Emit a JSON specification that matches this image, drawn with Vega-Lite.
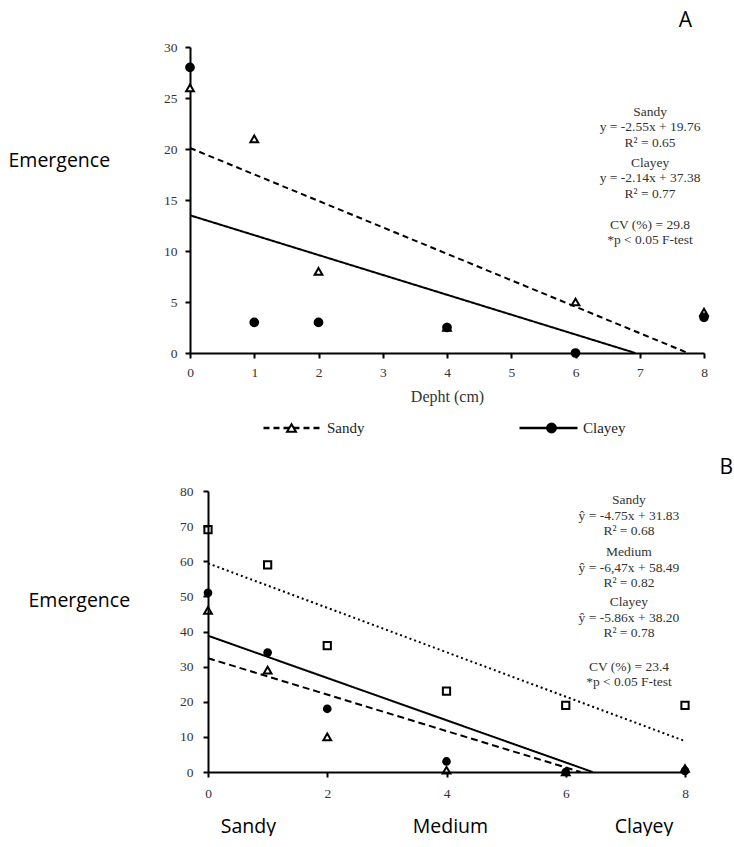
{
  "$schema": "https://vega.github.io/schema/vega-lite/v6.json",
  "padding": {"left": 8, "top": 10, "right": 0, "bottom": 0},
  "background": "white",
  "spacing": 21,
  "datasets": {
    "points": [
      {"panel": "A", "soil": "Sandy", "depth": 0, "emergence": 26},
      {"panel": "A", "soil": "Sandy", "depth": 1, "emergence": 21},
      {"panel": "A", "soil": "Sandy", "depth": 2, "emergence": 8},
      {"panel": "A", "soil": "Sandy", "depth": 4, "emergence": 2.5},
      {"panel": "A", "soil": "Sandy", "depth": 6, "emergence": 5},
      {"panel": "A", "soil": "Sandy", "depth": 8, "emergence": 4},
      {"panel": "A", "soil": "Clayey", "depth": 0, "emergence": 28},
      {"panel": "A", "soil": "Clayey", "depth": 1, "emergence": 3},
      {"panel": "A", "soil": "Clayey", "depth": 2, "emergence": 3},
      {"panel": "A", "soil": "Clayey", "depth": 4, "emergence": 2.5},
      {"panel": "A", "soil": "Clayey", "depth": 6, "emergence": 0},
      {"panel": "A", "soil": "Clayey", "depth": 8, "emergence": 3.5},
      {"panel": "B", "soil": "Sandy", "depth": 0, "emergence": 46},
      {"panel": "B", "soil": "Sandy", "depth": 1, "emergence": 29},
      {"panel": "B", "soil": "Sandy", "depth": 2, "emergence": 10},
      {"panel": "B", "soil": "Sandy", "depth": 4, "emergence": 0.5},
      {"panel": "B", "soil": "Sandy", "depth": 6, "emergence": 0},
      {"panel": "B", "soil": "Sandy", "depth": 8, "emergence": 1},
      {"panel": "B", "soil": "Medium", "depth": 0, "emergence": 69},
      {"panel": "B", "soil": "Medium", "depth": 1, "emergence": 59},
      {"panel": "B", "soil": "Medium", "depth": 2, "emergence": 36},
      {"panel": "B", "soil": "Medium", "depth": 4, "emergence": 23},
      {"panel": "B", "soil": "Medium", "depth": 6, "emergence": 19},
      {"panel": "B", "soil": "Medium", "depth": 8, "emergence": 19},
      {"panel": "B", "soil": "Clayey", "depth": 0, "emergence": 51},
      {"panel": "B", "soil": "Clayey", "depth": 1, "emergence": 34},
      {"panel": "B", "soil": "Clayey", "depth": 2, "emergence": 18},
      {"panel": "B", "soil": "Clayey", "depth": 4, "emergence": 3},
      {"panel": "B", "soil": "Clayey", "depth": 6, "emergence": 0},
      {"panel": "B", "soil": "Clayey", "depth": 8, "emergence": 0.3}
    ],
    "lines": [
      {"panel": "A", "soil": "Sandy", "depth": 0, "emergence": 20.1},
      {"panel": "A", "soil": "Sandy", "depth": 7.75, "emergence": 0},
      {"panel": "A", "soil": "Clayey", "depth": 0, "emergence": 13.5},
      {"panel": "A", "soil": "Clayey", "depth": 6.93, "emergence": 0},
      {"panel": "B", "soil": "Sandy", "depth": 0, "emergence": 32.4},
      {"panel": "B", "soil": "Sandy", "depth": 6.25, "emergence": 0},
      {"panel": "B", "soil": "Medium", "depth": 0, "emergence": 59.4},
      {"panel": "B", "soil": "Medium", "depth": 8, "emergence": 8.8},
      {"panel": "B", "soil": "Clayey", "depth": 0, "emergence": 38.8},
      {"panel": "B", "soil": "Clayey", "depth": 6.45, "emergence": 0}
    ],
    "notes": [
      {"panel": "A", "block": 1, "txt": ["Sandy", "y = -2.55x + 19.76", "R² = 0.65"]},
      {"panel": "A", "block": 2, "txt": ["Clayey", "y = -2.14x + 37.38", "R² = 0.77"]},
      {"panel": "A", "block": 3, "txt": ["CV (%) = 29.8", "*p < 0.05 F-test"]},
      {"panel": "B", "block": 1, "txt": ["Sandy", "ŷ = -4.75x + 31.83", "R² = 0.68"]},
      {"panel": "B", "block": 2, "txt": ["Medium", "ŷ = -6,47x + 58.49", "R² = 0.82"]},
      {"panel": "B", "block": 3, "txt": ["Clayey", "ŷ = -5.86x + 38.20", "R² = 0.78"]},
      {"panel": "B", "block": 4, "txt": ["CV (%) = 23.4", "*p < 0.05 F-test"]}
    ]
  },
  "config": {
    "view": {"stroke": null},
    "axis": {
      "grid": false,
      "domainColor": "black",
      "domainWidth": 2,
      "tickColor": "black",
      "tickWidth": 2,
      "tickSize": 5,
      "labelFont": "Liberation Serif",
      "labelFontSize": 13.5,
      "labelColor": "#333",
      "labelFlush": false,
      "labelOverlap": false,
      "titleFontWeight": "normal",
      "titleLimit": 1000
    }
  },
  "resolve": {"scale": {"strokeDash": "independent", "shape": "independent", "fill": "independent", "size": "independent"}},
  "vconcat": [
    {
      "name": "top",
      "width": 514,
      "height": 306,
      "title": {"text": "A", "anchor": "end", "frame": "group", "dx": -12, "offset": -8, "baseline": "alphabetic", "font": "Open Sans", "fontSize": 21, "fontWeight": "normal", "color": "black"},
      "encoding": {
        "x": {"field": "depth", "type": "quantitative", "scale": {"domain": [0, 8], "nice": false},
          "axis": {"values": [0, 1, 2, 3, 4, 5, 6, 7, 8], "format": "d", "labelPadding": 7, "title": "Depht (cm)", "titleFont": "Liberation Serif", "titleFontSize": 16, "titleColor": "#333", "titlePadding": 10}},
        "y": {"field": "emergence", "type": "quantitative", "scale": {"domain": [0, 30], "nice": false},
          "axis": {"values": [0, 5, 10, 15, 20, 25, 30], "format": "d", "labelPadding": 8, "title": "Emergence", "titleAngle": 0, "titleAlign": "left", "titleBaseline": "middle", "titleX": -182, "titleY": 113, "titleFont": "Open Sans", "titleFontSize": 19.5, "titleColor": "black"}}
      },
      "layer": [
        {
          "data": {"name": "lines"},
          "transform": [{"filter": "datum.panel === 'A'"}],
          "mark": {"type": "line", "color": "black", "strokeWidth": 2},
          "encoding": {
            "strokeDash": {"field": "soil", "type": "nominal",
              "scale": {"domain": ["Sandy", "Clayey"], "range": [[6, 4], [1, 0]]},
              "legend": {
                "orient": "none", "legendX": 72, "legendY": 374, "direction": "horizontal", "columns": 2,
                "title": null, "padding": 0, "symbolType": "stroke", "symbolSize": 3364, "symbolStrokeWidth": 2.5, "symbolStrokeColor": "black",
                "clipHeight": 14, "labelOffset": 4, "columnPadding": 153,
                "labelFont": "Liberation Serif", "labelFontSize": 15, "labelColor": "#222"
              }}
          }
        },
        {
          "data": {"name": "points"},
          "transform": [{"filter": "datum.panel === 'A'"}],
          "mark": {"type": "point", "stroke": "black", "strokeWidth": 2, "opacity": 1},
          "encoding": {
            "shape": {"field": "soil", "type": "nominal", "scale": {"domain": ["Sandy", "Clayey", "Medium"], "range": ["triangle-up", "circle", "square"]},
              "legend": {"orient": "none", "legendX": 72, "legendY": 374, "direction": "horizontal", "columns": 2, "values": ["Sandy", "Clayey"],
                "title": null, "padding": 0, "symbolSize": 80, "symbolStrokeWidth": 2, "symbolStrokeColor": "black", "symbolOpacity": 1,
                "clipHeight": 14, "symbolOffset": 22, "labelOffset": 30, "columnPadding": 193, "labelExpr": "''",
                "labelFont": "Liberation Serif", "labelFontSize": 15,
                "encode": {"symbols": {"update": {"stroke": {"value": "black"}, "strokeWidth": {"value": 2}, "opacity": {"value": 1}}}}}},
            "fill": {"field": "soil", "type": "nominal", "scale": {"domain": ["Sandy", "Clayey", "Medium"], "range": ["white", "black", "white"]},
              "legend": {"orient": "none", "legendX": 72, "legendY": 374, "direction": "horizontal", "columns": 2, "values": ["Sandy", "Clayey"],
                "title": null, "padding": 0, "symbolSize": 80, "symbolStrokeWidth": 2, "symbolStrokeColor": "black", "symbolOpacity": 1,
                "clipHeight": 14, "symbolOffset": 22, "labelOffset": 30, "columnPadding": 193, "labelExpr": "''",
                "labelFont": "Liberation Serif", "labelFontSize": 15,
                "encode": {"symbols": {"update": {"stroke": {"value": "black"}, "strokeWidth": {"value": 2}, "opacity": {"value": 1}}}}}},
            "size": {"value": 60}
          }
        },
        {
          "data": {"name": "notes"},
          "transform": [{"filter": "datum.panel === 'A' && datum.block === 1"}],
          "mark": {"type": "text", "font": "Liberation Serif", "fontSize": 13.5, "fill": "#333", "align": "center", "baseline": "top", "lineHeight": 15.5},
          "encoding": {
            "x": {"value": {"expr": "scale('top_x', 7.16)"}},
            "y": {"value": {"expr": "scale('top_y', 24.36)"}},
            "text": {"field": "txt"}
          }
        },
        {
          "data": {"name": "notes"},
          "transform": [{"filter": "datum.panel === 'A' && datum.block === 2"}],
          "mark": {"type": "text", "font": "Liberation Serif", "fontSize": 13.5, "fill": "#333", "align": "center", "baseline": "top", "lineHeight": 15.5},
          "encoding": {
            "x": {"value": {"expr": "scale('top_x', 7.16)"}},
            "y": {"value": {"expr": "scale('top_y', 19.36)"}},
            "text": {"field": "txt"}
          }
        },
        {
          "data": {"name": "notes"},
          "transform": [{"filter": "datum.panel === 'A' && datum.block === 3"}],
          "mark": {"type": "text", "font": "Liberation Serif", "fontSize": 13.5, "fill": "#333", "align": "center", "baseline": "top", "lineHeight": 15.5},
          "encoding": {
            "x": {"value": {"expr": "scale('top_x', 7.16)"}},
            "y": {"value": {"expr": "scale('top_y', 13.28)"}},
            "text": {"field": "txt"}
          }
        }
      ]
    },
    {
      "name": "bottom",
      "width": 495,
      "height": 281,
      "title": {"text": "B", "anchor": "end", "frame": "group", "dx": 48, "offset": -11, "baseline": "alphabetic", "font": "Open Sans", "fontSize": 21, "fontWeight": "normal", "color": "black"},
      "encoding": {
        "x": {"field": "depth", "type": "quantitative", "scale": {"domain": [0, 8], "nice": false, "range": [18, 495]},
          "axis": {"values": [0, 2, 4, 6, 8], "format": "d", "labelPadding": 9, "title": "Sandy\u00a0\u00a0\u00a0\u00a0\u00a0\u00a0\u00a0\u00a0\u00a0\u00a0\u00a0\u00a0\u00a0\u00a0\u00a0\u00a0\u00a0\u00a0\u00a0\u00a0\u00a0\u00a0\u00a0\u00a0\u00a0\u00a0\u00a0Medium\u00a0\u00a0\u00a0\u00a0\u00a0\u00a0\u00a0\u00a0\u00a0\u00a0\u00a0\u00a0\u00a0\u00a0\u00a0\u00a0\u00a0\u00a0\u00a0\u00a0\u00a0\u00a0\u00a0\u00a0\u00a0Clayey", "titleFont": "Open Sans", "titleFontSize": 19.5, "titleColor": "black", "titlePadding": 18}},
        "y": {"field": "emergence", "type": "quantitative", "scale": {"domain": [0, 80], "nice": false},
          "axis": {"values": [0, 10, 20, 30, 40, 50, 60, 70, 80], "format": "d", "offset": -18, "labelPadding": 10, "title": "Emergence", "titleAngle": 0, "titleAlign": "left", "titleBaseline": "middle", "titleX": -180, "titleY": 109, "titleFont": "Open Sans", "titleFontSize": 19.5, "titleColor": "black"}}
      },
      "layer": [
        {
          "data": {"name": "lines"},
          "transform": [{"filter": "datum.panel === 'B'"}],
          "mark": {"type": "line", "color": "black", "strokeWidth": 2},
          "encoding": {
            "strokeDash": {"field": "soil", "type": "nominal",
              "scale": {"domain": ["Sandy", "Medium", "Clayey"], "range": [[7, 4], [2, 3], [1, 0]]},
              "legend": null}
          }
        },
        {
          "data": {"name": "points"},
          "transform": [{"filter": "datum.panel === 'B'"}],
          "mark": {"type": "point", "stroke": "black", "strokeWidth": 2, "opacity": 1},
          "encoding": {
            "shape": {"field": "soil", "type": "nominal", "scale": {"domain": ["Sandy", "Medium", "Clayey"], "range": ["triangle-up", "square", "circle"]}, "legend": null},
            "fill": {"field": "soil", "type": "nominal", "scale": {"domain": ["Sandy", "Medium", "Clayey"], "range": ["transparent", "transparent", "black"]}, "legend": null},
            "size": {"field": "soil", "type": "ordinal", "scale": {"domain": ["Sandy", "Medium", "Clayey"], "range": [60, 45, 60]}, "legend": null}
          }
        },
        {
          "data": {"name": "notes"},
          "transform": [{"filter": "datum.panel === 'B' && datum.block === 1"}],
          "mark": {"type": "text", "font": "Liberation Serif", "fontSize": 13.5, "fill": "#333", "align": "center", "baseline": "top", "lineHeight": 15.5},
          "encoding": {
            "x": {"value": {"expr": "scale('bottom_x', 7.06)"}},
            "y": {"value": {"expr": "scale('bottom_y', 79.3)"}},
            "text": {"field": "txt"}
          }
        },
        {
          "data": {"name": "notes"},
          "transform": [{"filter": "datum.panel === 'B' && datum.block === 2"}],
          "mark": {"type": "text", "font": "Liberation Serif", "fontSize": 13.5, "fill": "#333", "align": "center", "baseline": "top", "lineHeight": 15.5},
          "encoding": {
            "x": {"value": {"expr": "scale('bottom_x', 7.06)"}},
            "y": {"value": {"expr": "scale('bottom_y', 64.5)"}},
            "text": {"field": "txt"}
          }
        },
        {
          "data": {"name": "notes"},
          "transform": [{"filter": "datum.panel === 'B' && datum.block === 3"}],
          "mark": {"type": "text", "font": "Liberation Serif", "fontSize": 13.5, "fill": "#333", "align": "center", "baseline": "top", "lineHeight": 15.5},
          "encoding": {
            "x": {"value": {"expr": "scale('bottom_x', 7.06)"}},
            "y": {"value": {"expr": "scale('bottom_y', 50.25)"}},
            "text": {"field": "txt"}
          }
        },
        {
          "data": {"name": "notes"},
          "transform": [{"filter": "datum.panel === 'B' && datum.block === 4"}],
          "mark": {"type": "text", "font": "Liberation Serif", "fontSize": 13.5, "fill": "#333", "align": "center", "baseline": "top", "lineHeight": 15.5},
          "encoding": {
            "x": {"value": {"expr": "scale('bottom_x', 7.06)"}},
            "y": {"value": {"expr": "scale('bottom_y', 32.0)"}},
            "text": {"field": "txt"}
          }
        }
      ]
    }
  ]
}
